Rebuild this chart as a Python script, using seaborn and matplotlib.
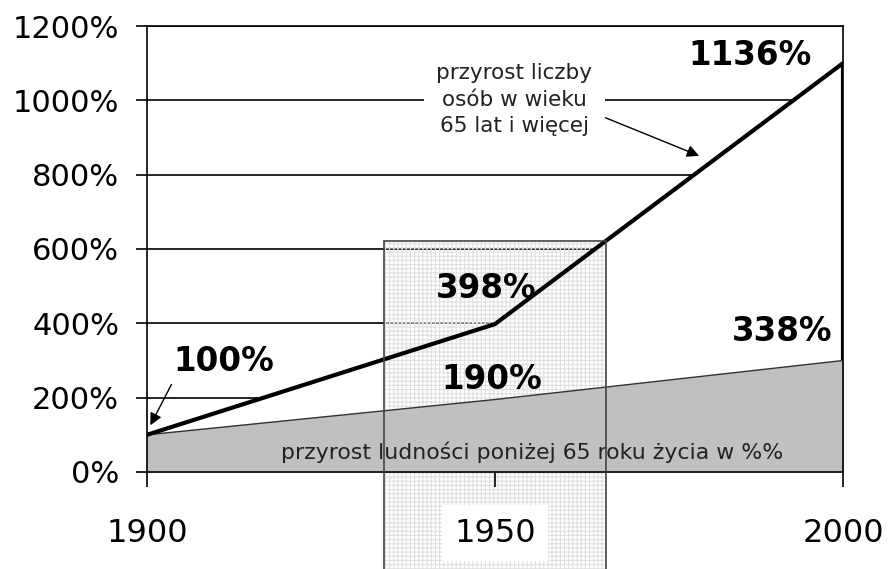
import matplotlib
matplotlib.use("Agg")
import matplotlib.pyplot as plt
import seaborn as sns
import pandas as pd
from matplotlib.patches import Rectangle

# --- data ---
years = [1900, 1950, 2000]
under65 = [100, 195, 300]       # population below 65 (grey area)
over65 = [100, 398, 1100]       # population 65+ (thick line)

value_labels = ["100%", "398%", "1136%", "190%", "338%"]
y_ticks = [0, 200, 400, 600, 800, 1000, 1200]
y_tick_labels = [f"{v}%" for v in y_ticks]
x_ticks = [1900, 1950, 2000]
x_tick_labels = ["1900", "1950", "2000"]

label_over = "przyrost liczby\nosób w wieku\n65 lat i więcej"
label_under = "przyrost ludności poniżej 65 roku życia w %%"

df = pd.DataFrame({"year": years, "under65": under65, "over65": over65})

sns.set_style("white")
plt.rcParams["font.family"] = ["DejaVu Sans"]

fig = plt.figure(figsize=(8.88, 5.69), dpi=100)
ax = fig.add_axes([0.1655, 0.1705, 0.7838, 0.7838])

# grey area below the under-65 series, white area up to the 65+ series
ax.fill_between(df["year"], 0, df["under65"], color="#c0c0c0", zorder=2)
ax.fill_between(df["year"], df["under65"], df["over65"], color="white", zorder=1.5)

# highlighted band around 1950 (patterned), reaching below the axis
plt.rcParams["hatch.linewidth"] = 0.8
band = Rectangle((1934, -400), 32, 1022, facecolor="none", edgecolor="#e0e0e0",
                 hatch="++++", lw=0, zorder=1.8, clip_on=False)
ax.add_patch(band)
band_edge = Rectangle((1934, -400), 32, 1022, facecolor="none", edgecolor="#444444",
                      lw=1.2, zorder=5, clip_on=False)
ax.add_patch(band_edge)

sns.lineplot(data=df, x="year", y="under65", color="#333333", lw=1, ax=ax, zorder=3)
sns.lineplot(data=df, x="year", y="over65", color="black", lw=3, ax=ax, zorder=4)
ax.vlines(years[-1], under65[-1], over65[-1], color="black", lw=3, zorder=4)

# value labels
bold = dict(fontsize=23.5, fontweight="bold", color="black", ha="center",
            va="center", zorder=6)
ax.text(1911.1, 296, value_labels[0], **bold)
ax.text(1948.7, 495, value_labels[1], **bold)
ax.text(1986.6, 1120, value_labels[2], **bold)
ax.text(1949.6, 248, value_labels[3], **bold)
ax.text(1991.2, 377, value_labels[4], **bold)

ax.annotate("", xy=(1900.3, 119), xytext=(1903.7, 242),
            arrowprops=dict(arrowstyle="-|>", color="black", lw=1, mutation_scale=18),
            zorder=6)

ax.text(1952.8, 1002, label_over, fontsize=15.5, color="#222222", ha="center",
        va="center", linespacing=1.4, zorder=6,
        bbox=dict(boxstyle="square,pad=0.6", facecolor="white", edgecolor="none"))
ax.annotate("", xy=(1979.7, 848), xytext=(1965.5, 956),
            arrowprops=dict(arrowstyle="-|>", color="black", lw=1, mutation_scale=18),
            zorder=6)

ax.text(1955.3, 52, label_under, fontsize=15.8, color="#222222", ha="center",
        va="center", zorder=4.5)

# axes
ax.set_xlim(1900, 2000)
ax.set_ylim(0, 1200)
ax.set_xticks(x_ticks)
ax.set_xticklabels(x_tick_labels)
ax.set_yticks(y_ticks)
ax.set_yticklabels(y_tick_labels)
ax.set_xlabel("")
ax.set_ylabel("")

ax.yaxis.grid(True, color="black", lw=1.2)
ax.xaxis.grid(False)
ax.set_axisbelow(True)
for s in ax.spines.values():
    s.set_visible(True)
    s.set_color("black")
    s.set_linewidth(1.2)

ax.tick_params(axis="y", direction="out", length=8, width=1.2, pad=12,
               labelsize=22, left=True, colors="black")
ax.tick_params(axis="x", direction="out", length=11, width=1.2, pad=22,
               labelsize=23, bottom=True, colors="black")
for lab in ax.get_xticklabels():
    lab.set_bbox(dict(facecolor="white", edgecolor="none", pad=9))
ax.xaxis.set_zorder(6)

fig.savefig("out.png", dpi=100)
